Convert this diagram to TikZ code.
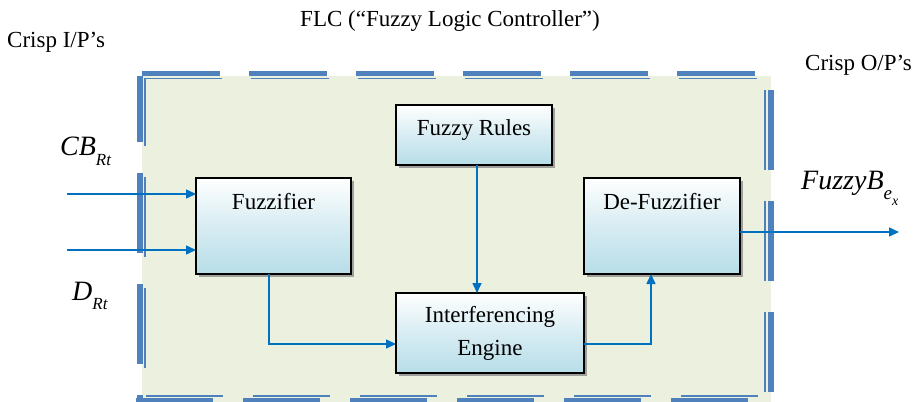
\documentclass[tikz,border=0pt]{standalone}
\usepackage{fontspec}
\setmainfont{LiberationSerif}[Extension=.ttf, UprightFont=*-Regular, ItalicFont=*-Italic, BoldFont=*-Bold, BoldItalicFont=*-BoldItalic, Ligatures=TeX]
\usetikzlibrary{arrows.meta,shadows}
\definecolor{bggreen}{RGB}{235,241,222}
\definecolor{brdblue}{RGB}{79,129,189}
\definecolor{arrblue}{RGB}{0,112,192}
\definecolor{boxblue}{RGB}{183,221,232}
\begin{document}
\begin{tikzpicture}[x=1pt,y=-1pt,
  blk/.style={draw=black, line width=1.8pt, inner sep=0pt, outer sep=0pt,
    top color=white, bottom color=boxblue, middle color=boxblue!55,
    font=\rmfamily\fontsize{23}{33}\selectfont,
    drop shadow={shadow xshift=3pt, shadow yshift=-3pt, fill=black!45, opacity=0.8}},
  conn/.style={draw=arrblue, line width=1.5pt, -{Triangle[length=10pt,width=9pt]}},
  lbl/.style={inner sep=0pt, font=\rmfamily\fontsize{23}{28}\selectfont},
  mlbl/.style={inner sep=0pt, font=\rmfamily\fontsize{28}{30}\selectfont\itshape},
  thickbrd/.style={draw=brdblue},
  ]
\useasboundingbox (0,0) rectangle (922,402);
% background panel
\fill[bggreen] (142,76) rectangle (771,402);
% dashed double border
\draw[thickbrd, line width=5pt, dash pattern=on 78pt off 29pt] (142,73.5) -- (771,73.5);
\draw[thickbrd, line width=1.8pt, dash pattern=on 78pt off 29pt] (144,78.5) -- (771,78.5);
\draw[thickbrd, line width=6pt, dash pattern=on 80pt off 31pt, dash phase=14pt] (140,76) -- (140,402);
\draw[thickbrd, line width=1.8pt, dash pattern=on 80pt off 31pt, dash phase=12pt] (145,78) -- (145,402);
\draw[thickbrd, line width=1.8pt, dash pattern=on 80pt off 31pt, dash phase=97pt] (765,76) -- (765,402);
\draw[thickbrd, line width=6pt, dash pattern=on 80pt off 31pt, dash phase=97pt] (770.5,76) -- (770.5,402);
\draw[thickbrd, line width=1.8pt, dash pattern=on 77pt off 30pt] (146,396) -- (771,396);
\draw[thickbrd, line width=5pt, dash pattern=on 77pt off 30pt] (136,400) -- (771,400);
% blocks
\node[blk, text height=30pt, text depth=30pt, minimum width=156pt] (fr) at (474,135) {Fuzzy Rules};
\node[blk, anchor=north, text height=31pt, text depth=65pt, minimum width=155pt] (fz) at (273.5,178) {Fuzzifier};
\node[blk, anchor=north, text height=31pt, text depth=65pt, minimum width=156pt] (df) at (662,178) {De-Fuzzifier};
\node[blk, align=center, minimum width=188pt, minimum height=80pt] (ie) at (490,333) {Interferencing\\Engine};
% labels
\node[lbl, anchor=base] (title) at (450,26) {FLC (“Fuzzy Logic Controller”)};
\node[lbl, anchor=base west] (cin) at (7,47) {Crisp I/P’s};
\node[lbl, anchor=base west] (cout) at (805,70) {Crisp O/P’s};
\node[mlbl, anchor=base west] (cb) at (60,155) {CB\raisebox{-10pt}{\fontsize{17}{17}\selectfont Rt}};
\node[mlbl, anchor=base west] (dr) at (72,300) {D\raisebox{-9pt}{\fontsize{17}{17}\selectfont Rt}};
\node[mlbl, anchor=base west] (fb) at (801,189) {FuzzyB\raisebox{-10pt}{\fontsize{19}{19}\selectfont e\raisebox{-6pt}{\fontsize{14}{14}\selectfont x}}};
% connectors
\coordinate (in1) at (67,194);
\coordinate (in2) at (67,250);
\coordinate (out) at (899,232);
\draw[conn] (in1) -- (in1 -| fz.west);
\draw[conn] (in2) -- (in2 -| fz.west);
\draw[conn] ([xshift=-4.5pt]fz.south) |- ([yshift=-11pt]ie.west);
\draw[conn] ([xshift=3pt]fr.south) -- ([xshift=3pt]fr.south |- ie.north);
\draw[conn] ([yshift=-11pt]ie.east) -| ([xshift=-11pt]df.south);
\draw[conn] (out -| df.east) -- (out);
\end{tikzpicture}
\end{document}
